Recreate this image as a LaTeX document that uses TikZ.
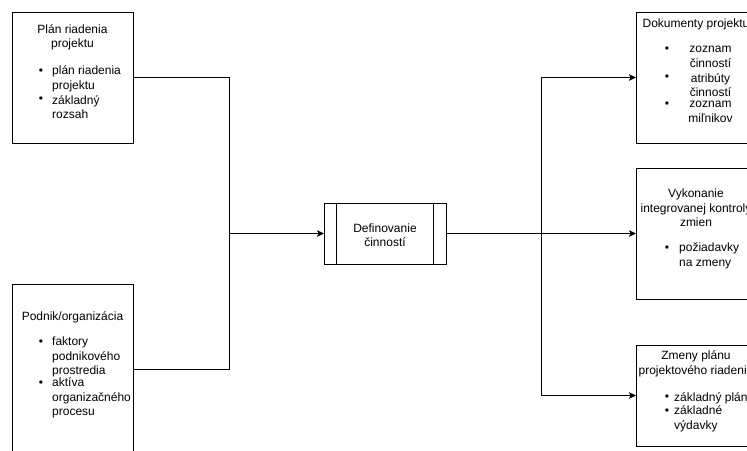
\documentclass[tikz,border=0pt]{standalone}
\usepackage{fontspec}
\setmainfont{Liberation Sans}
\usetikzlibrary{arrows.meta}
\begin{document}
\begin{tikzpicture}[x=1pt,y=-1pt,
  box/.style={draw=black, line width=1pt, fill=white, anchor=north west,
    inner sep=0pt, outer sep=0pt},
  txt/.style={inner sep=0pt, font=\fontsize{12}{14.4}\selectfont, text=black},
  ctr/.style={txt, align=center},
  lft/.style={txt, align=left, anchor=west},
  dot/.style={txt, anchor=center},
  wire/.style={draw=black, line width=1pt},
  flow/.style={wire, -{Stealth[length=7pt, width=6.5pt, inset=1.5pt]}}
]
% canvas
\path[use as bounding box, fill=white] (0,0) rectangle (747,450);
\clip (0,0) rectangle (747,450);

% input boxes
\node[box, minimum width=121pt, minimum height=131pt] (plan) at (12,12) {};
\node[box, minimum width=121pt, minimum height=186pt] (podnik) at (12,284) {};

% process box with double side bars
\node[box, minimum width=122pt, minimum height=61pt] (proc) at (324,203) {};
\draw[wire] ([xshift=12pt]proc.north west) -- ([xshift=12pt]proc.south west);
\draw[wire] ([xshift=-13pt]proc.north east) -- ([xshift=-13pt]proc.south east);

% output boxes
\node[box, minimum width=120pt, minimum height=131pt] (dok) at (636,12) {};
\node[box, minimum width=120pt, minimum height=131pt] (vyk) at (636,168) {};
\node[box, minimum width=120pt, minimum height=101pt] (zmeny) at (636,345) {};

% junction points
\coordinate (jl) at (229,233.5);
\coordinate (jlow) at (229,369);
\coordinate (jr) at (541,233.5);

% inputs merge into the process
\draw[wire] (plan.east) -| (jl);
\draw[wire] (podnik.east |- jlow) -- (jlow) -- (jl);
\draw[flow] (jl) -- (proc.west);

% process fans out to the outputs
\draw[wire] (proc.east) -- (jr);
\draw[flow] (jr) -- (vyk.west);
\draw[flow] (jr) |- (dok.west);
\draw[flow] (jr) |- (zmeny.west);

% texts: plan
\node[ctr] (planT) at (72.5,37.5) {Plán riadenia\\projektu};
\node[dot] (planB1) at (41,72) {•};
\node[lft] (planI1) at (52,79) {plán riadenia\\projektu};
\node[dot] (planB2) at (41,100) {•};
\node[lft] (planI2) at (52,107) {základný\\rozsah};

% texts: podnik
\node[ctr] (podT) at (72.5,317) {Podnik/organizácia};
\node[dot] (podB1) at (41,343) {•};
\node[lft] (podI1) at (52,357) {faktory\\podnikového\\prostredia};
\node[dot] (podB2) at (41,384) {•};
\node[lft] (podI2) at (52,398) {aktíva\\organizačného\\procesu};

% texts: process
\node[ctr] (procT) at (385,235) {Definovanie\\činností};

% texts: dokumenty
\node[ctr] (dokT) at (696,24) {Dokumenty projektu};
\node[dot] (dokB1) at (667,50) {•};
\node[ctr] (dokI1) at (710.5,57) {zoznam\\činností};
\node[dot] (dokB2) at (667,78) {•};
\node[ctr] (dokI2) at (710.5,85) {atribúty\\činností};
\node[dot] (dokB3) at (667,105) {•};
\node[ctr] (dokI3) at (710.5,112) {zoznam\\miľnikov};

% texts: vykonanie
\node[ctr] (vykT) at (696,208) {Vykonanie\\integrovanej kontroly\\zmien};
\node[dot] (vykB1) at (667,249) {•};
\node[lft] (vykI1) at (679,256) {požiadavky\\na zmeny};

% texts: zmeny
\node[ctr] (zmT) at (696,364) {Zmeny plánu\\projektového riadenia};
\node[dot] (zmB1) at (667,398) {•};
\node[lft] (zmI1) at (674,398) {základný plán};
\node[dot] (zmB2) at (667,412) {•};
\node[lft] (zmI2) at (674,419) {základné\\výdavky};
\end{tikzpicture}
\end{document}
